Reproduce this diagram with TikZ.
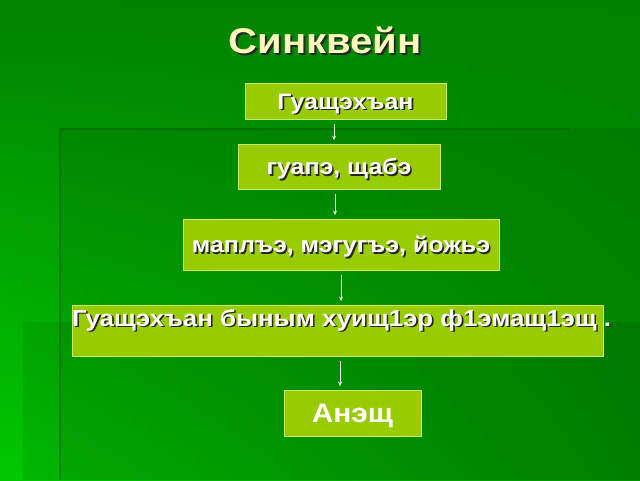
\documentclass[tikz,border=0pt]{standalone}
\usepackage{fontspec}
\setmainfont{Liberation Sans}[FakeStretch=1.12]
\usepackage{tikz}
\usetikzlibrary{arrows.meta}
\usetikzlibrary{calc}
\usetikzlibrary{shadings}

\definecolor{slidegreen}{RGB}{0,130,0}
\definecolor{slidebright}{RGB}{0,200,0}
\definecolor{boxgreen}{RGB}{153,204,0}
\definecolor{boxedge}{RGB}{200,235,110}
\definecolor{titleyellow}{RGB}{255,255,190}

% text with a dark drop shadow
\newcommand{\shadowed}[2][1.2pt]{\rlap{\kern#1\raisebox{-#1}{\color{black!85}#2}}#2}

\begin{document}
\begin{tikzpicture}[
            x=0.75pt, y=-0.75pt,
            wordbox/.style={draw=boxedge, line width=0.7pt, fill=boxgreen,
                text=white, font=\bfseries\fontsize{16.7}{19}\selectfont, inner sep=0pt,
                text height=12pt, text depth=0pt},
            link/.style={-{Stealth[length=3.5pt, width=3pt]}, line width=0.6pt, white!90!green,
                shorten <=3.5pt, shorten >=2.5pt},
            panel/.style={fill=black, opacity=0.07},
        ]
            \useasboundingbox (0,0) rectangle (640,480);

            % --- Fondo de la diapositiva ---
            \shade[upper left=slidegreen, upper right=slidegreen,
                lower left=slidebright, lower right=slidegreen!75!slidebright]
                (0,0) rectangle (640,480);
            \fill[panel] (60,128) rectangle (640,480);
            \fill[panel] (23,322) rectangle (640,480);
            \draw[green!40!black, line width=1.5pt, opacity=0.6] (60,480) -- (60,129) -- (570,129);

            % --- Titulo ---
            \node[titleyellow, font=\bfseries\fontsize{26.8}{30}\selectfont] (title) at (325,41)
                {\shadowed[1.5pt]{Синквейн}};

            % --- Cajas del sinkwein ---
            \node[wordbox, minimum width=150.75pt, minimum height=27pt] (b1) at (345.5,101)
                {\shadowed{Гуащэхъан}};
            \node[wordbox, minimum width=151.5pt, minimum height=33.75pt] (b2) at (339,166.5)
                {\shadowed{гуапэ, щабэ}};
            \node[wordbox, minimum width=237pt, minimum height=38.25pt] (b3) at (341,244.5)
                {\shadowed{маплъэ, мэгугъэ, йожьэ}};
            \node[wordbox, text height=15.75pt, text depth=22.5pt,
                font=\bfseries\fontsize{17.3}{20}\selectfont] (b4) at (337.5,330.5)
                {\makebox[398.25pt][l]{\shadowed{Гуащэхъан быным хуищ1эр ф1эмащ1эщ .}}};
            \node[wordbox, minimum width=102.75pt, minimum height=34.5pt, text height=14.3pt,
                font=\bfseries\fontsize{20}{23}\selectfont] (b5) at (352.5,413) {Анэщ};

            % --- Flechas entre las cajas ---
            \foreach \a/\b/\dx in {b1/b2/-8.6, b2/b3/-3, b3/b4/0, b4/b5/1.9} {
                \draw[link] ([xshift=\dx pt]\a.south) -- ([xshift=\dx pt]\a.south |- \b.north);
            }
        \end{tikzpicture}
\end{document}
